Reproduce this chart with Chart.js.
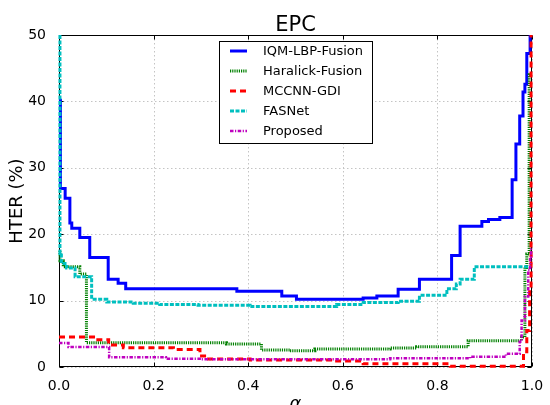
<!DOCTYPE html>
<html><head><meta charset="utf-8">
<script src="https://cdn.jsdelivr.net/npm/chart.js@4/dist/chart.umd.min.js"></script>
<style>html,body{margin:0;padding:0;background:#fff;overflow:hidden}</style>
</head><body>
<canvas id="c" width="550" height="405"></canvas>
<script>
// ---- data ----
const chartTitle = 'EPC';
const xAxisLabel = 'α';
const yAxisLabel = 'HTER (%)';
const seriesLabels = ['IQM-LBP-Fusion', 'Haralick-Fusion', 'MCCNN-GDI', 'FASNet', 'Proposed'];
const xTicks = [0, 0.2, 0.4, 0.6, 0.8, 1.0];
const yTicks = [0, 10, 20, 30, 40, 50];

// each value holds from its alpha until the next alpha (step curve)
const iqmAlpha = [0.003, 0.003, 0.013, 0.023, 0.027, 0.044, 0.065, 0.104, 0.125, 0.141, 0.376, 0.471, 0.502, 0.643, 0.672, 0.717, 0.762, 0.830, 0.848, 0.894, 0.908, 0.932, 0.958, 0.966, 0.974, 0.981, 0.985, 0.989, 0.996];
const iqmHter  = [40.4, 26.9, 25.4, 21.7, 20.9, 19.5, 16.5, 13.2, 12.6, 11.8, 11.4, 10.7, 10.2, 10.4, 10.7, 11.7, 13.2, 16.8, 21.2, 21.9, 22.2, 22.5, 28.2, 33.6, 37.8, 41.4, 42.6, 47.2, 50];

const haraAlpha = [0.002, 0.002, 0.009, 0.044, 0.058, 0.354, 0.428, 0.488, 0.541, 0.700, 0.756, 0.865, 0.978, 0.985, 0.989, 0.994, 0.996];
const haraHter  = [17.5, 16.0, 15.1, 14.0, 3.65, 3.45, 2.55, 2.45, 2.7, 2.85, 3.05, 3.95, 4.5, 15.0, 17.0, 44.0, 44.0];

const mccAlpha = [0.0, 0.073, 0.105, 0.136, 0.242, 0.298, 0.312, 0.404, 0.587, 0.643, 0.827, 0.982, 0.989, 0.995, 0.998];
const mccHter  = [4.5, 4.1, 3.3, 2.9, 2.65, 1.65, 1.2, 1.05, 0.9, 0.5, 0.1, 2.3, 5.5, 11.6, 50];

const fasAlpha = [0.002, 0.002, 0.005, 0.016, 0.034, 0.069, 0.101, 0.157, 0.213, 0.294, 0.404, 0.587, 0.643, 0.717, 0.762, 0.820, 0.840, 0.848, 0.878, 0.997];
const fasHter  = [50, 17.1, 15.6, 14.9, 13.6, 10.2, 9.8, 9.6, 9.4, 9.3, 9.1, 9.4, 9.7, 9.9, 10.8, 11.8, 12.5, 13.2, 15.1, 15.1];

const propAlpha = [0.0, 0.020, 0.106, 0.226, 0.300, 0.700, 0.869, 0.945, 0.974, 0.978, 0.985, 0.992, 0.996, 0.998];
const propHter  = [3.6, 3.0, 1.45, 1.25, 1.15, 1.3, 1.55, 2.0, 3.8, 7.0, 10.6, 14.6, 16.6, 18.0];

// ---- build ----
const pts = (xs, ys) => xs.map((a, i) => ({ x: a, y: ys[i] }));
const styles = [
  { color: '#0000ff', width: 3,   dash: [] },
  { color: '#008000', width: 3,   dash: [1.2, 1] },
  { color: '#ff0000', width: 3,   dash: [6, 4] },
  { color: '#00bfbf', width: 3,   dash: [4, 1.5] },
  { color: '#bf00bf', width: 2.5, dash: [3.5, 1.5, 1.2, 1.5] }
];
const seriesData = [pts(iqmAlpha, iqmHter), pts(haraAlpha, haraHter), pts(mccAlpha, mccHter), pts(fasAlpha, fasHter), pts(propAlpha, propHter)];

const datasets = seriesLabels.map((lab, i) => ({
  label: lab,
  data: seriesData[i],
  borderColor: styles[i].color,
  backgroundColor: styles[i].color,
  borderWidth: styles[i].width,
  borderDash: styles[i].dash,
  stepped: true,
  fill: false,
  pointRadius: 0,
  clip: 4,
  order: seriesLabels.length - i
}));

const FONT = 'DejaVu Sans';

const decor = {
  id: 'decor',
  beforeDatasetsDraw(chart) {
    const { ctx, chartArea: a, scales: { x, y } } = chart;
    ctx.save();
    // dotted grid
    ctx.strokeStyle = '#c4c4c4';
    ctx.lineWidth = 1;
    ctx.setLineDash([1.5, 2.5]);
    xTicks.forEach(v => {
      const px = Math.round(x.getPixelForValue(v)) + 0.5;
      ctx.beginPath(); ctx.moveTo(px, a.top); ctx.lineTo(px, a.bottom); ctx.stroke();
    });
    yTicks.forEach(v => {
      const py = Math.round(y.getPixelForValue(v)) + 0.5;
      ctx.beginPath(); ctx.moveTo(a.left, py); ctx.lineTo(a.right, py); ctx.stroke();
    });
    ctx.setLineDash([]);
    // frame
    ctx.strokeStyle = '#000';
    ctx.lineWidth = 1;
    const L = Math.round(a.left) + 0.5, R = Math.round(a.right) - 0.5, T = Math.round(a.top) + 0.5, B = Math.round(a.bottom) - 0.5;
    ctx.strokeRect(L, T, R - L, B - T);
    // inward ticks
    ctx.beginPath();
    xTicks.forEach(v => {
      const px = Math.round(x.getPixelForValue(v)) + 0.5;
      ctx.moveTo(px, B); ctx.lineTo(px, B - 4);
      ctx.moveTo(px, T); ctx.lineTo(px, T + 4);
    });
    yTicks.forEach(v => {
      const py = Math.round(y.getPixelForValue(v)) + 0.5;
      ctx.moveTo(L, py); ctx.lineTo(L + 4, py);
      ctx.moveTo(R, py); ctx.lineTo(R - 4, py);
    });
    ctx.stroke();
    ctx.restore();
  },
  afterDatasetsDraw(chart) {
    const { ctx, chartArea: a } = chart;
    ctx.save();
    // title
    ctx.fillStyle = '#000';
    ctx.font = '21px "' + FONT + '"';
    ctx.textAlign = 'center';
    ctx.textBaseline = 'alphabetic';
    const cx = (a.left + a.right) / 2;
    ctx.fillText(chartTitle, cx, 31);
    // x label
    ctx.font = 'italic 18px "' + FONT + '"';
    ctx.fillText(xAxisLabel, cx, 409);
    // legend
    const bx = 219.5, by = 41.5, bw = 153, bh = 102;
    ctx.fillStyle = '#fff';
    ctx.fillRect(bx, by, bw, bh);
    ctx.strokeStyle = '#000';
    ctx.lineWidth = 1;
    ctx.strokeRect(bx, by, bw, bh);
    ctx.font = '13px "' + FONT + '"';
    ctx.textAlign = 'left';
    ctx.textBaseline = 'middle';
    chart.data.datasets.forEach((ds, i) => {
      const ry = 51 + i * 20;
      ctx.strokeStyle = ds.borderColor;
      ctx.lineWidth = ds.borderWidth;
      ctx.setLineDash(ds.borderDash);
      ctx.beginPath(); ctx.moveTo(230, ry); ctx.lineTo(247, ry); ctx.stroke();
      ctx.setLineDash([]);
      ctx.fillStyle = '#000';
      ctx.fillText(ds.label, 263, ry + 0.5);
    });
    ctx.restore();
  }
};

new Chart(document.getElementById('c'), {
  type: 'line',
  data: { datasets },
  options: {
    responsive: false,
    animation: false,
    devicePixelRatio: 1,
    layout: { padding: { left: 0, right: 18, top: 35, bottom: 0 } },
    plugins: { legend: { display: false }, title: { display: false }, tooltip: { enabled: false } },
    elements: { point: { radius: 0 }, line: { tension: 0 } },
    scales: {
      x: {
        type: 'linear', min: 0, max: 1,
        afterBuildTicks: s => { s.ticks = xTicks.map(v => ({ value: v })); },
        ticks: { callback: v => Number(v).toFixed(1), font: { family: FONT, size: 14 }, color: '#000', padding: 3, maxRotation: 0, autoSkip: false },
        grid: { display: false }, border: { display: false },
        afterFit: s => { s.height = 38; }
      },
      y: {
        type: 'linear', min: 0, max: 50,
        afterBuildTicks: s => { s.ticks = yTicks.map(v => ({ value: v })); },
        ticks: { font: { family: FONT, size: 14 }, color: '#000', padding: 5, autoSkip: false },
        grid: { display: false }, border: { display: false },
        title: { display: true, text: yAxisLabel, font: { family: FONT, size: 18 }, color: '#000', padding: { top: 7, bottom: 0 } },
        afterFit: s => { s.width = 59; }
      }
    }
  },
  plugins: [decor]
});
</script>
</body></html>
